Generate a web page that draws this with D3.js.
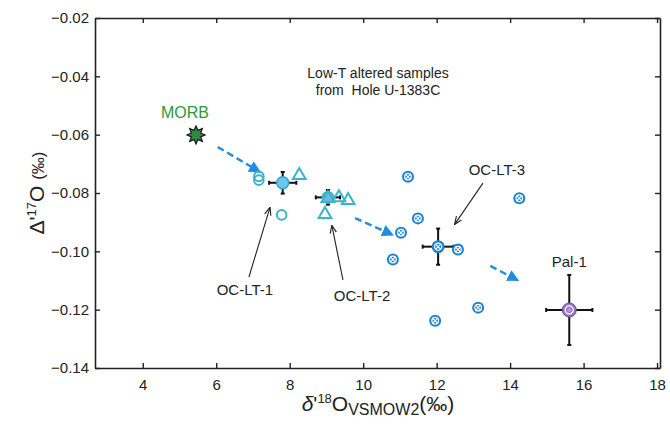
<!DOCTYPE html>
<html>
<head>
<meta charset="utf-8">
<script src="https://cdn.jsdelivr.net/npm/d3@7"></script>
<style>
  body { margin: 0; background: #fff; }
  svg { font-family: Arial, "Liberation Sans", sans-serif; }
</style>
</head>
<body>
<div id="chart"></div>
<script>
// values
const xTicks = [4, 6, 8, 10, 12, 14, 16, 18];
const yTicks = [-0.14, -0.12, -0.10, -0.08, -0.06, -0.04, -0.02];

const morb = [{x: 5.45, y: -0.0601}];

// OC-LT-1 individual samples (open circles / open triangle)
const lt1Circles = [
    {x: 7.16, y: -0.0743}, {x: 7.16, y: -0.0756}, {x: 7.78, y: -0.0875}
];
const lt1Triangles = [{x: 8.26, y: -0.0736}];
const lt1Mean = [{x: 7.81, y: -0.0765, ex: 0.37, ey: 0.0037}];

// OC-LT-2
const lt2Triangles = [
    {x: 9.34, y: -0.0812}, {x: 9.59, y: -0.0822}, {x: 8.96, y: -0.0870}
];
const lt2Mean = [{x: 9.04, y: -0.0815, ex: 0.33, ey: 0.0025}];

// OC-LT-3 samples (crossed circles)
const lt3Points = [
    {x: 11.22, y: -0.0744}, {x: 11.49, y: -0.0887}, {x: 11.03, y: -0.0936},
    {x: 10.81, y: -0.1028}, {x: 12.58, y: -0.0994}, {x: 14.25, y: -0.0818},
    {x: 11.96, y: -0.1238}, {x: 13.13, y: -0.1193}
];
const lt3Mean = [{x: 12.04, y: -0.0984, ex: 0.42, ey: 0.0062}];

const pal1 = [{x: 15.61, y: -0.1201, ex: 0.63, ey: 0.0120}];

// dashed trend arrows
const trendArrows = [
    {x1: 6.04, y1: -0.0642, x2: 7.19, y2: -0.0728},
    {x1: 9.78, y1: -0.0886, x2: 10.81, y2: -0.0944},
    {x1: 13.46, y1: -0.1050, x2: 14.22, y2: -0.1100}
];

// labels with pointer arrows (label position, arrow from -> to)
const callouts = [
    {text: 'OC-LT-1', lx: 6.78, ly: -0.1150, x1: 6.89, y1: -0.1088, x2: 7.46, y2: -0.0851},
    {text: 'OC-LT-2', lx: 9.97, ly: -0.1170, x1: 9.45, y1: -0.1098, x2: 9.15, y2: -0.0913},
    {text: 'OC-LT-3', lx: 13.64, ly: -0.0738, x1: 13.26, y1: -0.0766, x2: 12.50, y2: -0.0906}
];

const width = 670, height = 425;
const margin = {top: 18, right: 10, bottom: 57, left: 95};

const svg = d3.select('#chart').append('svg')
    .attr('width', width)
    .attr('height', height);

const x = d3.scaleLinear().domain([2.7, 18.08]).range([margin.left, width - margin.right]);
const y = d3.scaleLinear().domain([-0.14, -0.02]).range([height - margin.bottom, margin.top]);

const defs = svg.append('defs');
defs.append('marker')
    .attr('id', 'blueHead')
    .attr('viewBox', '0 0 10 10')
    .attr('refX', 9).attr('refY', 5)
    .attr('markerWidth', 5).attr('markerHeight', 5)
    .attr('markerUnits', 'strokeWidth')
    .attr('orient', 'auto')
    .append('path').attr('d', 'M0,0L10,5L0,10Z').attr('fill', '#1f8ee0');
defs.append('marker')
    .attr('id', 'blackHead')
    .attr('viewBox', '0 0 10 10')
    .attr('refX', 9).attr('refY', 5)
    .attr('markerWidth', 8).attr('markerHeight', 8)
    .attr('markerUnits', 'userSpaceOnUse')
    .attr('orient', 'auto')
    .append('path').attr('d', 'M0,1L10,5L0,9').attr('fill', 'none')
    .attr('stroke', '#222').attr('stroke-width', 1.4);

// axes (ticks point inward)
const fmt = d3.format('.2f');
svg.append('g')
    .attr('transform', `translate(${margin.left},0)`)
    .call(d3.axisLeft(y).tickValues(yTicks).tickSizeInner(-5).tickSizeOuter(0).tickPadding(6).tickFormat(fmt));
svg.append('g')
    .attr('transform', `translate(0,${height - margin.bottom})`)
    .call(d3.axisBottom(x).tickValues(xTicks).tickSizeInner(-5).tickSizeOuter(0).tickPadding(11));
svg.append('g')
    .attr('transform', `translate(0,${margin.top})`)
    .call(d3.axisTop(x).tickValues(xTicks).tickSizeInner(-5).tickSizeOuter(0).tickFormat(''));
svg.append('g')
    .attr('transform', `translate(${width - margin.right},0)`)
    .call(d3.axisRight(y).tickValues(yTicks).tickSizeInner(-5).tickSizeOuter(0).tickFormat(''));

svg.selectAll('.domain').attr('stroke', '#222').attr('stroke-width', 1.6);
svg.selectAll('.tick line').attr('stroke', '#222').attr('stroke-width', 1.4);
svg.selectAll('.tick text').attr('font-size', 15).attr('fill', '#222')
    .attr('font-family', 'Arial, "Liberation Sans", sans-serif');

// axis titles
const yTitle = svg.append('text')
    .attr('transform', `translate(44,${(margin.top + height - margin.bottom) / 2}) rotate(-90)`)
    .attr('text-anchor', 'middle')
    .attr('fill', '#222')
    .attr('font-size', 21);
yTitle.append('tspan').text('Δ\'');
yTitle.append('tspan').attr('font-size', 13).attr('dy', -8).text('17');
yTitle.append('tspan').attr('dy', 8).text('O ');
yTitle.append('tspan').attr('font-size', 17).text('(‰)');

const xTitle = svg.append('text')
    .attr('x', 378).attr('y', 411)
    .attr('text-anchor', 'middle')
    .attr('fill', '#222')
    .attr('font-size', 21);
xTitle.append('tspan').attr('font-style', 'italic').text('δ');
xTitle.append('tspan').text('\'');
xTitle.append('tspan').attr('font-size', 13).attr('dy', -8).text('18');
xTitle.append('tspan').attr('dy', 8).text('O');
xTitle.append('tspan').attr('font-size', 16).attr('dy', 4).text('VSMOW2');
xTitle.append('tspan').attr('dy', -4).text('(‰)');

// note text
const note = svg.append('text')
    .attr('text-anchor', 'middle')
    .attr('fill', '#222')
    .attr('font-size', 14);
note.append('tspan').attr('x', 378).attr('y', 78).text('Low-T altered samples');
note.append('tspan').attr('x', 378).attr('y', 95).attr('xml:space', 'preserve').text('from  Hole U-1383C');

// dashed trend arrows
svg.append('g').selectAll('line')
    .data(trendArrows)
    .join('line')
    .attr('x1', d => x(d.x1)).attr('y1', d => y(d.y1))
    .attr('x2', d => x(d.x2)).attr('y2', d => y(d.y2))
    .attr('stroke', '#1f8ee0')
    .attr('stroke-width', 2.4)
    .attr('stroke-dasharray', '7,4')
    .attr('marker-end', 'url(#blueHead)');

// callouts
const co = svg.append('g');
co.selectAll('line')
    .data(callouts)
    .join('line')
    .attr('x1', d => x(d.x1)).attr('y1', d => y(d.y1))
    .attr('x2', d => x(d.x2)).attr('y2', d => y(d.y2))
    .attr('stroke', '#222')
    .attr('stroke-width', 1.1)
    .attr('marker-end', 'url(#blackHead)');
co.selectAll('text')
    .data(callouts)
    .join('text')
    .attr('x', d => x(d.lx)).attr('y', d => y(d.ly))
    .attr('text-anchor', 'middle')
    .attr('font-size', 15)
    .attr('fill', '#222')
    .text(d => d.text);

// error bars
function errorBars(data) {
    const g = svg.append('g').attr('stroke', '#111').attr('stroke-width', 2);
    data.forEach(d => {
        const cx = x(d.x), cy = y(d.y);
        const x0 = x(d.x - d.ex), x1 = x(d.x + d.ex);
        const y0 = y(d.y - d.ey), y1 = y(d.y + d.ey);
        g.append('line').attr('x1', x0).attr('x2', x1).attr('y1', cy).attr('y2', cy);
        g.append('line').attr('x1', cx).attr('x2', cx).attr('y1', y0).attr('y2', y1);
        g.append('line').attr('x1', x0).attr('x2', x0).attr('y1', cy - 2).attr('y2', cy + 2);
        g.append('line').attr('x1', x1).attr('x2', x1).attr('y1', cy - 2).attr('y2', cy + 2);
        g.append('line').attr('x1', cx - 2).attr('x2', cx + 2).attr('y1', y0).attr('y2', y0);
        g.append('line').attr('x1', cx - 2).attr('x2', cx + 2).attr('y1', y1).attr('y2', y1);
    });
}
errorBars(lt1Mean);
errorBars(lt2Mean);
errorBars(lt3Mean);
errorBars(pal1);

const teal = '#3ab4c8';
const triPath = d3.symbol().type(d3.symbolTriangle).size(70);

// OC-LT-1 samples
svg.append('g').selectAll('circle')
    .data(lt1Circles)
    .join('circle')
    .attr('cx', d => x(d.x)).attr('cy', d => y(d.y))
    .attr('r', 4.8)
    .attr('fill', 'none')
    .attr('stroke', teal)
    .attr('stroke-width', 2);
svg.append('g').selectAll('path')
    .data(lt1Triangles.concat(lt2Triangles))
    .join('path')
    .attr('d', triPath)
    .attr('transform', d => `translate(${x(d.x)},${y(d.y) + 1})`)
    .attr('fill', 'none')
    .attr('stroke', teal)
    .attr('stroke-width', 2);

// OC-LT-1 mean
svg.append('g').selectAll('circle')
    .data(lt1Mean)
    .join('circle')
    .attr('cx', d => x(d.x)).attr('cy', d => y(d.y))
    .attr('r', 6)
    .attr('fill', '#6cc6ee')
    .attr('stroke', '#2aa4c0')
    .attr('stroke-width', 1.5);

// OC-LT-2 mean: circle behind a filled triangle
const lt2g = svg.append('g');
lt2g.selectAll('circle')
    .data(lt2Mean)
    .join('circle')
    .attr('cx', d => x(d.x)).attr('cy', d => y(d.y))
    .attr('r', 5.5)
    .attr('fill', '#6cc6ee')
    .attr('stroke', teal)
    .attr('stroke-width', 1.8);
lt2g.selectAll('path')
    .data(lt2Mean)
    .join('path')
    .attr('d', triPath)
    .attr('transform', d => `translate(${x(d.x)},${y(d.y) + 1})`)
    .attr('fill', '#6cb8e6')
    .attr('stroke', teal)
    .attr('stroke-width', 2);

// crossed circles
function crossed(data, r) {
    const g = svg.append('g').selectAll('g')
        .data(data)
        .join('g')
        .attr('transform', d => `translate(${x(d.x)},${y(d.y)})`);
    g.append('circle').attr('r', r).attr('fill', '#1c82d2');
    g.append('circle').attr('r', r * 0.55).attr('fill', 'none')
        .attr('stroke', '#fff').attr('stroke-width', 1.2);
    const k = r * 0.4;
    g.append('path').attr('d', `M${-k},${-k}L${k},${k}M${-k},${k}L${k},${-k}`)
        .attr('stroke', '#fff').attr('stroke-width', 1.1);
}
crossed(lt3Points, 6);
crossed(lt3Mean, 6.5);

// Pal-1
const pg = svg.append('g').selectAll('g')
    .data(pal1)
    .join('g')
    .attr('transform', d => `translate(${x(d.x)},${y(d.y)})`);
pg.append('circle').attr('r', 7).attr('fill', '#9a78c4').attr('stroke', '#6a4a9a').attr('stroke-width', 1);
pg.append('circle').attr('r', 4).attr('fill', 'none').attr('stroke', '#fff').attr('stroke-width', 1.2);
pg.append('circle').attr('r', 2).attr('fill', '#b79ad8');

svg.append('text')
    .attr('x', x(pal1[0].x)).attr('y', y(-0.1054))
    .attr('text-anchor', 'middle')
    .attr('font-size', 15)
    .attr('fill', '#222')
    .text('Pal-1');

// MORB star
const star = d3.lineRadial().curve(d3.curveLinearClosed);
const starPts = d3.range(16).map(i => [i * Math.PI / 8, i % 2 ? 5 : 9]);
svg.append('g').selectAll('path')
    .data(morb)
    .join('path')
    .attr('d', star(starPts))
    .attr('transform', d => `translate(${x(d.x)},${y(d.y)})`)
    .attr('fill', '#2e8a3c')
    .attr('stroke', '#1a1a1a')
    .attr('stroke-width', 1.2);
svg.append('text')
    .attr('x', x(5.15)).attr('y', y(-0.0543))
    .attr('text-anchor', 'middle')
    .attr('font-size', 16)
    .attr('fill', '#2a9a3a')
    .text('MORB');
</script>
</body>
</html>
